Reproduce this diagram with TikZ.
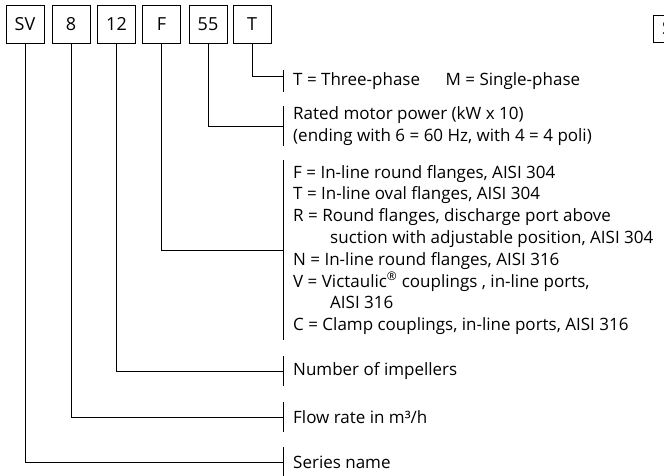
\documentclass[tikz,border=0pt]{standalone}
\usepackage{fontspec}
\setmainfont{Open Sans}
\begin{document}
\begin{tikzpicture}[x=1pt,y=-1pt]
\tikzset{
  codebox/.style={draw, line width=0.8pt, minimum width=38pt, minimum height=38pt,
    inner sep=1pt, font=\fontsize{18}{21}\selectfont},
  legend/.style={anchor=west, align=left, inner xsep=10pt, inner ysep=0pt,
    font=\fontsize{17}{21.8}\selectfont},
  wire/.style={line width=0.8pt},
}
\useasboundingbox (0,0) rectangle (664,476);
\clip (0,0) rectangle (664,476);

% code boxes
\node[codebox] (sv)  at (25,24)    {SV};
\node[codebox] (c8)  at (71,24)    {8};
\node[codebox] (c12) at (116.5,24) {12};
\node[codebox] (cf)  at (161.5,24) {F};
\node[codebox] (c55) at (208,24)   {55};
\node[codebox] (ct)  at (252,24)   {T};
\node[codebox, anchor=west, minimum height=27pt] (nx) at (653,28.5) {SV};

% legends
\node[legend, minimum height=21pt] (lt) at (283,81)
  {T = Three-phase\hspace{1.5em}M = Single-phase};
\node[legend, minimum height=40pt] (lp) at (283,126)
  {Rated motor power (kW x 10)\\(ending with 6 = 60 Hz, with 4 = 4 poli)};
\node[legend, minimum height=180pt] (lf) at (283,250)
  {F = In-line round flanges, AISI 304\\
   T = In-line oval flanges, AISI 304\\
   R = Round flanges, discharge port above\\
   \hspace*{37pt}suction with adjustable position, AISI 304\\
   N = In-line round flanges, AISI 316\\
   V = Victaulic\textsuperscript{®} couplings , in-line ports,\\
   \hspace*{37pt}AISI 316\\
   C = Clamp couplings, in-line ports, AISI 316};
\node[legend, minimum height=29pt] (ln) at (283,371) {Number of impellers};
\node[legend, minimum height=30pt] (lq) at (283,417) {Flow rate in m³/h};
\node[legend, minimum height=30pt] (ls) at (283,462) {Series name};

% bars on the left of each legend
\foreach \n in {lt,lp,lf,ln,lq,ls}
  \draw[wire] (\n.north west) -- (\n.south west);

% connectors
\draw[wire] (ct.south)  |- ([yshift=5pt]lt.west);
\draw[wire] (c55.south) |- (lp.west);
\draw[wire] (cf.south)  |- (lf.west);
\draw[wire] (c12.south) |- (ln.west);
\draw[wire] (c8.south)  |- (lq.west);
\draw[wire] (sv.south)  |- (ls.west);
\end{tikzpicture}
\end{document}
